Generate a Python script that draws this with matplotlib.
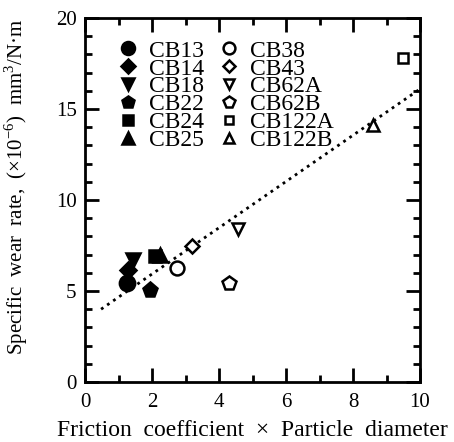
import matplotlib
matplotlib.use("Agg")
import matplotlib.pyplot as plt
from matplotlib.ticker import MultipleLocator

plt.rcParams['font.family'] = ['Liberation Serif', 'DejaVu Serif']
plt.rcParams['mathtext.fontset'] = 'custom'
plt.rcParams['mathtext.rm'] = 'Liberation Serif'

labels = ['CB13', 'CB14', 'CB18', 'CB22', 'CB24', 'CB25',
          'CB38', 'CB43', 'CB62A', 'CB62B', 'CB122A', 'CB122B']
x_vals = [1.25, 1.28, 1.43, 1.94, 2.09, 2.24,
          2.75, 3.2, 4.57, 4.3, 9.5, 8.6]
y_vals = [5.45, 6.15, 6.7, 5.05, 6.9, 7.0,
          6.25, 7.45, 8.4, 5.45, 17.8, 14.1]
markers = ['o', 'D', 'v', 'p', 's', '^', 'o', 'D', 'v', 'p', 's', '^']
filled = [True] * 6 + [False] * 6
sizes = [11, 8, 10, 11, 8, 10, 10, 7, 9, 10, 7, 9]

fit_x = [0.48, 10.0]
fit_y = [4.0, 16.1]

fig = plt.figure(figsize=(4.54, 4.42), dpi=100)
ax = fig.add_axes([85 / 454, 60 / 442, 335 / 454, 364 / 442])

ax.plot(fit_x, fit_y, ':', color='black', lw=2)

for i in range(len(labels)):
    fc = 'black' if filled[i] else 'white'
    ax.plot(x_vals[i], y_vals[i], linestyle='none', marker=markers[i],
            markersize=sizes[i], markerfacecolor=fc, markeredgecolor='black',
            markeredgewidth=1.8, label=labels[i])

ax.set_xlim(0, 10)
ax.set_ylim(0, 20)
ax.xaxis.set_major_locator(MultipleLocator(2))
ax.xaxis.set_minor_locator(MultipleLocator(1))
ax.yaxis.set_major_locator(MultipleLocator(5))
ax.yaxis.set_minor_locator(MultipleLocator(1))
ax.tick_params(which='both', direction='in', top=True, right=True, width=2,
               labelsize=15)
ax.tick_params(axis='x', pad=8)
ax.tick_params(axis='y', pad=6)
ax.tick_params(which='major', length=10)
ax.tick_params(which='minor', length=5)
for s in ax.spines.values():
    s.set_linewidth(2)

ax.set_xlabel('Friction  coefficient  \u00d7  Particle  diameter', fontsize=17, labelpad=6)
ax.set_ylabel('Specific  wear  rate,  (\u00d710$^{-6}$)  mm$^{3}$/N\u00b7m', fontsize=15)
ax.yaxis.set_label_coords(-0.165, 0.535)

ax.legend(ncol=2, frameon=False, loc='upper left', bbox_to_anchor=(0.036, 0.985),
          fontsize=17, labelspacing=-0.15, handletextpad=0.3, columnspacing=0.46,
          handlelength=1.2, borderaxespad=0.3, markerscale=0.85)

fig.savefig('out.png', dpi=100)
